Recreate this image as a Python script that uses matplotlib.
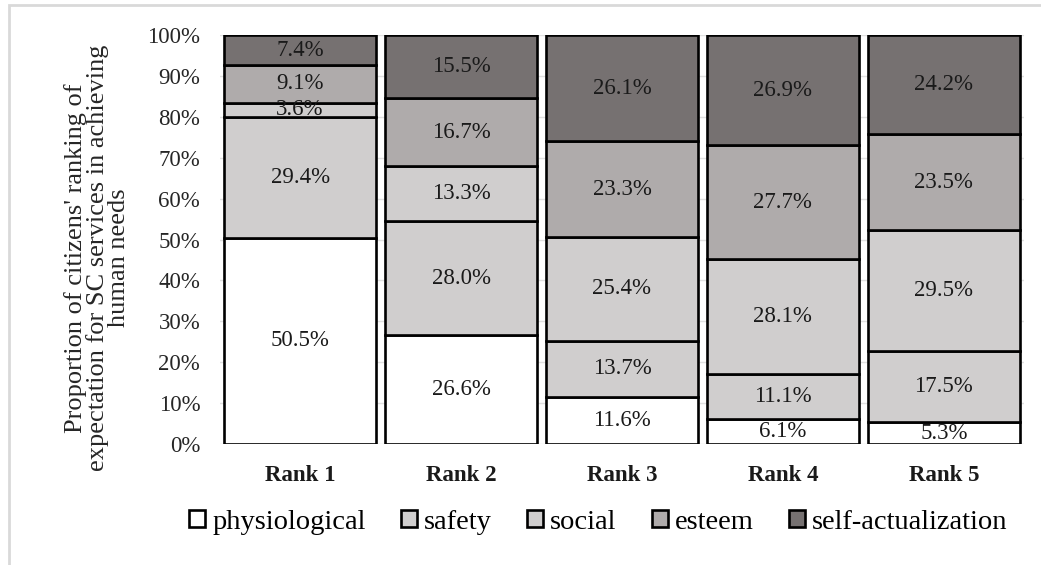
import matplotlib.pyplot as plt
import numpy as np
from matplotlib.patches import Rectangle

# Data (percent)
ranks = ['Rank 1', 'Rank 2', 'Rank 3', 'Rank 4', 'Rank 5']
needs = ['physiological', 'safety', 'social', 'esteem', 'self-actualization']
physiological = [50.5, 26.6, 11.6, 6.1, 5.3]
safety = [29.4, 28.0, 13.7, 11.1, 17.5]
social = [3.6, 13.3, 25.4, 28.1, 29.5]
esteem = [9.1, 16.7, 23.3, 27.7, 23.5]
self_actualization = [7.4, 15.5, 26.1, 26.9, 24.2]

series = [physiological, safety, social, esteem, self_actualization]
colours = ['#ffffff', '#d0cece', '#d0cece', '#afabab', '#767171']

plt.rcParams['font.family'] = ['Liberation Serif', 'DejaVu Serif']

fig = plt.figure(figsize=(10.41, 5.65), dpi=100)
ax = fig.add_axes([0.211, 0.214, 0.773, 0.724])

# light frame round the chart area
fig.patches.append(Rectangle((9 / 1041, -0.05), 1.1, 1 - 5 / 565 + 0.05,
                             transform=fig.transFigure, fill=False,
                             edgecolor='#d9d9d9', linewidth=2, zorder=0))

x = np.arange(len(ranks))
bottom = np.zeros(len(ranks))
for name, vals, col in zip(needs, series, colours):
    vals = np.array(vals)
    ax.bar(x, vals, 0.944, bottom=bottom, color=col, edgecolor='black',
           linewidth=1.9, label=name, zorder=3)
    for xi, b, v in zip(x, bottom, vals):
        ax.text(xi, b + v / 2, '{:.1f}%'.format(v), ha='center', va='center',
                fontsize=16.5, color='#1a1a1a', zorder=4)
    bottom += vals

ax.set_xlim(-0.5, len(ranks) - 0.5)
ax.set_ylim(0, 100)
ax.set_yticks(np.arange(0, 101, 10))
ax.set_yticklabels(['{}%'.format(v) for v in range(0, 101, 10)])
ax.set_xticks(x)
ax.set_xticklabels(ranks, fontweight='bold')
ax.tick_params(axis='y', length=0, pad=14, labelsize=16.5, labelcolor='#262626')
ax.tick_params(axis='x', length=0, pad=15, labelsize=16.5, labelcolor='#1a1a1a')
ax.yaxis.grid(True, color='#e0e0e0', linewidth=1, zorder=0)
for s in ax.spines.values():
    s.set_visible(False)

ax.set_ylabel("Proportion of citizens' ranking of\n"
              "expectation for SC services in achieving\n"
              "human needs", fontsize=19, linespacing=0.92,
              color='#262626')
ax.yaxis.set_label_coords(-0.112, 0.455)

fig.legend(loc='center', bbox_to_anchor=(0.575, 0.076), ncol=5, frameon=False,
           fontsize=20.5, handlelength=0.55, handleheight=0.55,
           handletextpad=0.25, columnspacing=1.25, borderpad=0)

fig.savefig('out.png', dpi=100)
